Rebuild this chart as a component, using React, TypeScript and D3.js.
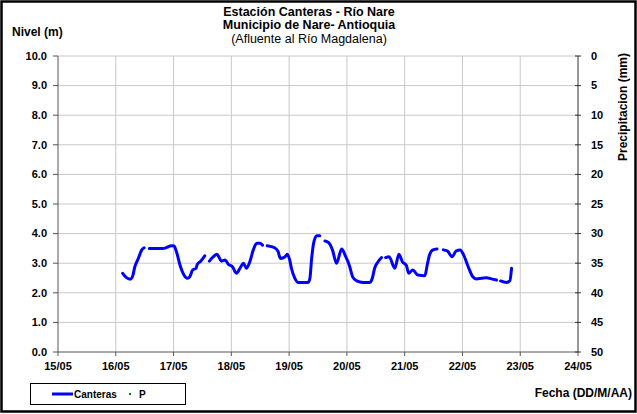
import React from "react";
import * as d3 from "d3";

// Day offsets from 15/05 and level (m); null = gap
const dayOffsets: number[] = [
  1.12, 1.18, 1.25, 1.29, 1.33, 1.39, 1.45, 1.49, 1.53,
  1.58, 1.82, 1.97, 2.01, 2.05, 2.12, 2.18, 2.24, 2.28, 2.33, 2.39, 2.41, 2.47, 2.54, 2.58,
  2.62, 2.69, 2.75, 2.83, 2.89, 2.95, 3.02, 3.09, 3.15, 3.21, 3.26, 3.32, 3.38, 3.44, 3.49, 3.54, 3.58,
  3.62, 3.75, 3.81, 3.85, 3.93, 3.97, 4.01, 4.04, 4.10, 4.16, 4.33, 4.36, 4.39, 4.43, 4.48, 4.53, 4.58,
  4.62, 4.68, 4.75, 4.82, 4.91, 4.98, 5.04, 5.10, 5.17, 5.28, 5.40, 5.44, 5.48, 5.54, 5.60, 5.64,
  5.67, 5.73, 5.83, 5.90, 5.96, 6.03, 6.07, 6.14, 6.23, 6.35, 6.39, 6.43, 6.49, 6.56, 6.61,
  6.67, 6.74, 6.82, 6.89, 6.96, 7.02, 7.10, 7.18, 7.24, 7.33, 7.42, 7.50, 7.59, 7.63,
  7.66, 7.76, 7.82, 7.85,
];
const levels: (number | null)[] = [
  2.66, 2.52, 2.46, 2.55, 2.88, 3.16, 3.45, 3.52, null,
  3.5, 3.5, 3.59, 3.58, 3.39, 2.88, 2.6, 2.49, 2.54, 2.77, 2.83, 2.96, 3.07, 3.25, null,
  3.07, 3.22, 3.3, 3.07, 3.11, 2.96, 2.88, 2.66, 2.83, 3.0, 2.83, 3.05, 3.45, 3.67, 3.67, 3.61, null,
  3.59, 3.52, 3.39, 3.16, 3.22, 3.3, 3.11, 2.83, 2.49, 2.35, 2.35, 2.49, 3.16, 3.73, 3.93, 3.93, null,
  3.75, 3.7, 3.45, 3.0, 3.48, 3.22, 2.94, 2.54, 2.4, 2.35, 2.35, 2.49, 2.83, 3.05, 3.19, null,
  3.19, 3.22, 2.83, 3.3, 3.05, 2.92, 2.66, 2.77, 2.6, 2.58, 2.94, 3.28, 3.45, 3.48, null,
  3.45, 3.41, 3.22, 3.41, 3.45, 3.28, 2.88, 2.54, 2.47, 2.49, 2.51, 2.47, 2.43, null,
  2.4, 2.35, 2.4, 2.83,
];

const dayLabels: string[] = ["15/05", "16/05", "17/05", "18/05", "19/05", "20/05", "21/05", "22/05", "23/05", "24/05"];
const levelTicks: number[] = [0, 1, 2, 3, 4, 5, 6, 7, 8, 9, 10];
const precipTicks: number[] = [0, 5, 10, 15, 20, 25, 30, 35, 40, 45, 50];

const W = 637;
const H = 414;
const L = 58, R = 578, T = 56, B = 352;
const FONT = "'Liberation Sans', Arial, sans-serif";

export default function App() {
  const x = d3.scaleLinear().domain([0, dayLabels.length - 1]).range([L, R]);
  const y = d3.scaleLinear().domain([0, 10]).range([B, T]);
  const yp = d3.scaleLinear().domain([0, 50]).range([T, B]);

  const pts = dayOffsets.map((d, i) => ({ d, v: levels[i] }));
  const line = d3
    .line<{ d: number; v: number | null }>()
    .defined((p) => p.v !== null)
    .x((p) => x(p.d))
    .y((p) => y(p.v as number))
    .curve(d3.curveMonotoneX);

  return (
    <svg width={W} height={H} style={{ position: "absolute", left: 0, top: 0, background: "#fff" }} fontFamily={FONT}>
      <rect x={1.5} y={1.5} width={W - 3} height={H - 4} fill="#fff" stroke="#000" strokeWidth={2.5} />
      {/* gridlines */}
      {levelTicks.slice(1).map((t) => (
        <line key={"h" + t} x1={L} x2={R} y1={y(t)} y2={y(t)} stroke="#c8c8c8" strokeWidth={1} />
      ))}
      {dayLabels.slice(1, -1).map((_, i) => (
        <line key={"v" + i} x1={x(i + 1)} x2={x(i + 1)} y1={T} y2={B} stroke="#c8c8c8" strokeWidth={1} />
      ))}
      {/* axes */}
      <line x1={L} x2={L} y1={T} y2={B} stroke="#555" strokeWidth={1} />
      <line x1={R} x2={R} y1={T} y2={B} stroke="#333" strokeWidth={1} />
      <line x1={L} x2={R} y1={B} y2={B} stroke="#555" strokeWidth={1} />
      {levelTicks.map((t) => (
        <g key={"lt" + t}>
          <line x1={L - 5} x2={L} y1={y(t)} y2={y(t)} stroke="#555" />
          <text x={47} y={y(t)} dy="0.35em" textAnchor="end" fontSize={11} fontWeight="bold">
            {t.toFixed(1)}
          </text>
        </g>
      ))}
      {precipTicks.map((t) => (
        <g key={"pt" + t}>
          <line x1={R - 3} x2={R + 3} y1={yp(t)} y2={yp(t)} stroke="#333" />
          <text x={591} y={yp(t)} dy="0.35em" textAnchor="start" fontSize={11} fontWeight="bold">
            {t}
          </text>
        </g>
      ))}
      {dayLabels.map((lab, i) => (
        <g key={"dl" + i}>
          <line x1={x(i)} x2={x(i)} y1={B} y2={B + 4} stroke="#555" />
          <text x={x(i)} y={366} dy="0.35em" textAnchor="middle" fontSize={11} fontWeight="bold">
            {lab}
          </text>
        </g>
      ))}
      {/* series */}
      <path d={line(pts) || ""} fill="none" stroke="#0000ff" strokeWidth={3} strokeLinecap="round" strokeLinejoin="round" />
      {/* titles */}
      <text x={309} y={12} dy="0.35em" textAnchor="middle" fontSize={12.5} fontWeight="bold">Estación Canteras - Río Nare</text>
      <text x={309} y={25} dy="0.35em" textAnchor="middle" fontSize={12.5} fontWeight="bold">Municipio de Nare- Antioquia</text>
      <text x={309} y={39} dy="0.35em" textAnchor="middle" fontSize={12.5}>(Afluente al Río Magdalena)</text>
      <text x={12} y={32} dy="0.35em" fontSize={12} fontWeight="bold">Nivel (m)</text>
      <text transform="translate(623,107) rotate(-90)" dy="0.35em" textAnchor="middle" fontSize={12} fontWeight="bold">Precipitacion (mm)</text>
      <text x={632} y={393} dy="0.35em" textAnchor="end" fontSize={12} fontWeight="bold">Fecha (DD/M/AA)</text>
      {/* legend */}
      <rect x={30.5} y={383.5} width={155} height={21} fill="#fff" stroke="#000" strokeWidth={1} />
      <line x1={52} x2={73} y1={394} y2={394} stroke="#0000ff" strokeWidth={3} />
      <text x={74} y={394} dy="0.35em" fontSize={10} fontWeight="bold">Canteras</text>
      <rect x={129} y={393} width={2} height={2} fill="#008000" />
      <text x={139} y={394} dy="0.35em" fontSize={10} fontWeight="bold">P</text>
    </svg>
  );
}
